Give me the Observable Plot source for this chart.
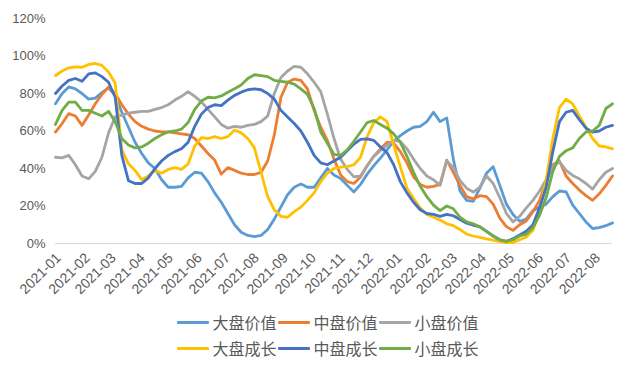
<!DOCTYPE html>
<html><head><meta charset="utf-8">
<script src="https://cdn.jsdelivr.net/npm/d3@7"></script>
<script src="https://cdn.jsdelivr.net/npm/@observablehq/plot@0.6"></script>
<style>
body{margin:0;background:#fff;}
#legend{width:640px;padding-top:9px;font-family:"Noto Sans CJK SC",sans-serif;font-size:16px;color:#595959;}
.row{display:flex;justify-content:center;height:26px;align-items:center;padding-left:16px;}
.item{display:flex;align-items:center;width:101px;}
.sw{width:32px;height:3px;margin-right:4px;border-radius:1px;}
</style></head><body>
<div id="chart"></div>
<div id="legend"></div>
<script>
// roughly weekly observations between these two dates
const startDate = "2021-01-02";
const endDate = "2022-08-21";
const seriesNames = ["大盘价值","中盘价值","小盘价值","大盘成长","中盘成长","小盘成长"];
const seriesColors = ["#5B9BD5","#ED7D31","#A5A5A5","#FFC000","#4472C4","#70AD47"];
const yTicks = [0,0.2,0.4,0.6,0.8,1.0,1.2];

const largeValue = [74.5,80,83.5,82.5,80,77,77.5,80.5,83,79,
 70,62,54,48,43,40,34,30,30,30.5,
 35,38,37.5,33,27,22,16,10,6,4.3,
 3.7,4.3,7.5,13,19.5,26,30,31.8,30,30,
 35,40,36.5,34.6,31,27.5,31.5,37,41.5,45.5,
 50,54.5,57.5,60,62,62.5,65,70,65,67,
 45,28,23,22.5,29.5,37.5,41,31,21,15.5,
 11.8,13,17.5,19.5,21,25,28,27.5,20.5,16,
 11.5,8,8.5,9.5,11];
const midValue = [59.4,64,69.3,68,63,68.5,74.5,79.5,83.4,80,
 74,69,65,62.5,61,60,59.5,59.5,59,58.5,
 58,56,52,48,44.5,37,40.5,39,37.5,36.8,
 36.8,38,44,58,78,86,87.7,87,82.5,71,
 62,55,45,36.5,33,32,35.5,41.5,46.5,50.5,
 54,53.5,49,43,35.5,31.5,30,30.5,31.5,44.5,
 38,31,25,23.8,25.5,25,21,13.5,9,7,
 10,12,17,23,33,42,44,36,32,28.5,
 25.5,23,26.5,31,36];
const smallValue = [46,45.7,47,42,36,34.5,38.5,46,59,67.5,
 68.5,69.5,70,70.5,70.5,71.5,72.5,74,76.5,78.5,
 81,78.5,75.5,71.5,67.5,63.5,61.5,62.5,62,63,
 63.5,65,68,80,88.5,92,94.5,94,90.5,86,
 81,69,56,45,39.5,35.5,36,41.5,46.5,49.5,
 52.5,55,54.5,50.5,45,40,36,34,31,44,
 40.5,33.5,29.5,27.4,30,36,32,24.5,16,11.5,
 14.5,19,23,28,34,41,43.5,39,36.3,34.5,
 32,29,34,38,40];
const largeGrowth = [89.6,92,93.7,94.2,94,95.5,96,95,91.5,85.5,
 50,42.5,39,34,36,39,37.5,39.5,40.5,39.5,
 42.5,52,56.5,56,57,56,57,60.5,59,56,
 51,38,25,18,14.5,14,17,19.4,23,27,
 33,37.5,40,40.7,41,42,46,57,64.5,67.5,
 65,52.5,41,29.5,24,19,15.5,14,12.5,10.5,
 9.5,7.5,5,4,3.3,2.5,1.8,1,0.5,0.5,
 2,3.5,7,17,34,56,72.5,77,74.5,68,
 62,56,52,51.5,50.5];
const midGrowth = [80,84,87,88,86.5,90.5,91,89,86,78,
 47,33.5,32,32,35,40,44,47,49,50.5,
 54,62.5,69,72.5,74,73.5,76.5,79,80.7,82,
 82.5,82,80,77,71,67.5,64,60,54,47,
 43,42,44,46,49.5,53,55.5,55.8,55,51.5,
 48.5,42,33,27,22,18,16,15.5,14.5,15.5,
 14.8,12.8,10.8,9.8,8.9,6.5,4,2,1.2,2.5,
 4.5,6.5,10,19,30,49,65,70,71,66,
 61.5,59.4,60,62,63];
const smallGrowth = [63.5,71,75.4,75.4,71,71,69.5,68,70.5,65,
 56,52.5,51,51.5,53.5,56,58,59.5,60,61,
 64.5,71.5,76,78,77.7,78.7,80.7,82.5,84.5,88,
 90,89.5,89,87,86.5,86,85,82.5,79.5,72,
 59.5,53.5,47.5,47,50,54.5,59.5,64.5,65.6,63.5,
 61.5,58.5,54,46.5,38,30.5,25,20.5,17.5,20,
 18.5,14,11.5,10.5,8.9,6.5,4,2,1.2,2,
 4,5,8.5,15,24.5,38.5,46.5,49.5,51,56,
 59.5,60,63,72,74.5];

const allSeries = [largeValue, midValue, smallValue, largeGrowth, midGrowth, smallGrowth];
const t0 = new Date(startDate + "T00:00:00Z");
const t1 = new Date(endDate + "T00:00:00Z");
const n = largeValue.length;
const dates = largeValue.map((_, i) => new Date(+t0 + (t1 - t0) * i / (n - 1)));
const rows = [];
allSeries.forEach((arr, s) => arr.forEach((v, i) => rows.push({date: dates[i], value: v / 100, series: seriesNames[s]})));
const monthTicks = d3.utcMonth.range(new Date("2021-01-01T00:00:00Z"), new Date("2022-08-02T00:00:00Z"));

const hasAxisMarks = typeof Plot.axisX === "function";
const axisMarks = hasAxisMarks ? [
  Plot.axisX({ticks: monthTicks, tickFormat: d3.utcFormat("%Y-%m"), tickRotate: -45, tickSize: 0, tickPadding: 12, dx: 4, fontSize: 14, fill: "#595959", label: null}),
  Plot.axisY({ticks: yTicks, tickFormat: d3.format(".0%"), tickSize: 0, tickPadding: 10, fontSize: 13, fill: "#595959", label: null})
] : [];

const chart = Plot.plot({
  width: 640, height: 300,
  marginLeft: 55, marginRight: 28, marginTop: 18, marginBottom: 57,
  style: {fontSize: "13px", fontFamily: "'Liberation Sans', Arial, sans-serif", color: "#595959", background: "#fff"},
  x: Object.assign({type: "utc", domain: [t0, t1], label: null},
     hasAxisMarks ? {} : {ticks: monthTicks, tickFormat: d3.utcFormat("%Y-%m"), tickRotate: -45, tickSize: 0, tickPadding: 12}),
  y: Object.assign({domain: [0, 1.2], label: null},
     hasAxisMarks ? {} : {ticks: yTicks, tickFormat: d3.format(".0%"), tickSize: 0, tickPadding: 10}),
  color: {domain: seriesNames, range: seriesColors},
  marks: [
    ...axisMarks,
    Plot.ruleY([0], {stroke: "#d9d9d9", strokeWidth: 1.2}),
    Plot.lineY(rows, {x: "date", y: "value", z: "series", stroke: "series", strokeWidth: 2.8, strokeLinejoin: "round", strokeLinecap: "round"})
  ]
});
document.getElementById("chart").appendChild(chart);

const legend = document.getElementById("legend");
[[0,1,2],[3,4,5]].forEach(idxs => {
  const row = document.createElement("div");
  row.className = "row";
  idxs.forEach(k => {
    const item = document.createElement("div");
    item.className = "item";
    const sw = document.createElement("span");
    sw.className = "sw";
    sw.style.background = seriesColors[k];
    const tx = document.createElement("span");
    tx.textContent = seriesNames[k];
    item.appendChild(sw); item.appendChild(tx);
    row.appendChild(item);
  });
  legend.appendChild(row);
});
</script>
</body></html>
